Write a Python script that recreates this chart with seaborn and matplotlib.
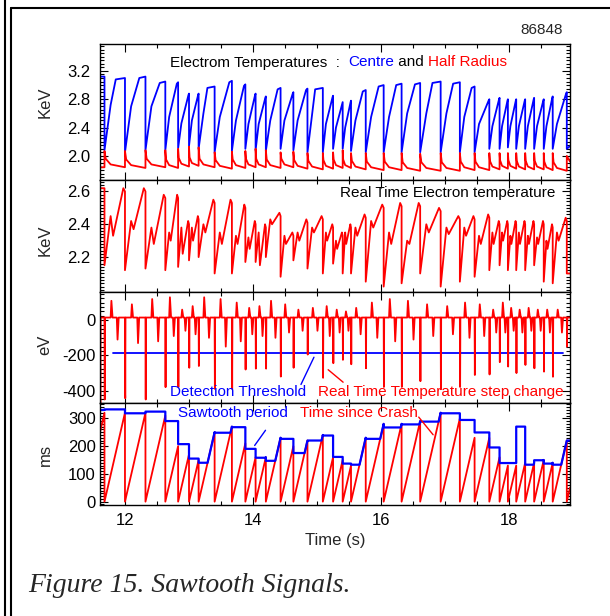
import numpy as np
import pandas as pd
import matplotlib
matplotlib.use("Agg")
import matplotlib.pyplot as plt
from matplotlib.ticker import MultipleLocator, FormatStrFormatter
from matplotlib.lines import Line2D
import seaborn as sns

# ---- values ----
t_start, t_end = 11.61, 18.95
prev_crash = 11.36          # crash just before the window (s)

# sawtooth crash times (s)
crash_t = [11.68, 12.00, 12.32, 12.63, 12.83, 13.00, 13.15, 13.40, 13.67, 13.88,
           14.04, 14.20, 14.43, 14.63, 14.85, 15.09, 15.25, 15.40, 15.53, 15.76,
           16.04, 16.32, 16.61, 16.93, 17.23, 17.46, 17.69, 17.85, 17.98, 18.11,
           18.25, 18.39, 18.54, 18.68, 18.90]

# centre Te per sawtooth (KeV): after crash, early rise, top; knee = fraction where top is reached
centre_pre, centre_post = 3.12, [2.10, 2.14]
centre_min = [2.08, 2.05, 2.08, 2.08, 2.11, 2.14, 2.10, 2.05, 2.07, 2.10,
              2.08, 2.07, 2.10, 2.08, 2.05, 2.05, 2.10, 2.10, 2.07, 2.05,
              2.05, 2.05, 2.05, 2.05, 2.05, 2.05, 2.10, 2.10, 2.12, 2.10,
              2.10, 2.10, 2.10, 2.10]
centre_mid = [2.72, 2.70, 2.70, 2.55, 2.46, 2.50, 2.60, 2.55, 2.50, 2.45,
              2.45, 2.50, 2.50, 2.50, 2.58, 2.45, 2.40, 2.40, 2.50, 2.55,
              2.55, 2.60, 2.60, 2.60, 2.55, 2.45, 2.42, 2.42, 2.42, 2.42,
              2.42, 2.42, 2.42, 2.45]
centre_peak = [3.10, 3.12, 3.05, 3.04, 2.88, 2.88, 2.98, 3.06, 3.01, 2.88,
               2.84, 2.96, 2.90, 2.95, 2.96, 2.85, 2.76, 2.78, 2.93, 3.00,
               3.02, 3.03, 3.05, 3.04, 2.98, 2.80, 2.82, 2.80, 2.80, 2.80,
               2.82, 2.80, 2.84, 2.90]
centre_knee = [0.55, 0.70, 0.72, 0.90, 0.95, 0.95, 0.55, 0.85, 0.90, 0.95,
               0.95, 0.80, 0.95, 0.90, 0.50, 0.95, 0.95, 0.95, 0.80, 0.72,
               0.70, 0.72, 0.60, 0.65, 0.80, 0.95, 0.95, 0.95, 0.95, 0.95,
               0.95, 0.95, 0.95, 0.95]

# half radius Te (KeV): jump at each crash, relaxed level per sawtooth
hr_pre, hr_post = 1.84, 1.92
hr_jump = [2.07, 2.07, 2.08, 2.08, 2.10, 2.13, 2.12, 2.05, 2.06, 2.07,
           2.10, 2.08, 2.05, 2.06, 2.04, 2.04, 2.05, 2.08, 2.04, 2.04,
           2.04, 2.04, 2.03, 2.04, 2.04, 2.04, 2.04, 2.04, 2.04, 2.04,
           2.04, 2.04, 2.04, 2.04, 2.00]
hr_base = [1.84, 1.83, 1.84, 1.83, 1.85, 1.86, 1.84, 1.82, 1.83, 1.84,
           1.84, 1.83, 1.84, 1.82, 1.81, 1.82, 1.83, 1.83, 1.81, 1.80,
           1.80, 1.79, 1.79, 1.79, 1.80, 1.80, 1.81, 1.82, 1.82, 1.81,
           1.81, 1.81, 1.80, 1.79]

# real time Te (KeV) per sawtooth
rt_pre, rt_post = 2.62, 2.10
rt_min = [2.15, 2.12, 2.13, 2.12, 2.14, 2.18, 2.20, 2.10, 2.10, 2.17,
          2.17, 2.20, 2.08, 2.18, 2.13, 2.10, 2.16, 2.10, 2.10, 2.05,
          2.02, 2.04, 2.10, 2.02, 2.05, 2.08, 2.12, 2.15, 2.12, 2.12,
          2.12, 2.15, 2.05, 2.04]
rt_mid = [2.45, 2.42, 2.38, 2.35, 2.38, 2.38, 2.40, 2.35, 2.33, 2.32,
          2.35, 2.43, 2.33, 2.35, 2.38, 2.35, 2.30, 2.35, 2.38, 2.42,
          2.35, 2.30, 2.40, 2.38, 2.38, 2.33, 2.35, 2.35, 2.33, 2.35,
          2.33, 2.32, 2.30, 2.35]
rt_dip = [2.33, 2.37, 2.28, 2.30, 2.22, 2.30, 2.35, 2.28, 2.28, 2.25,
          2.15, 2.40, 2.28, 2.30, 2.35, 2.30, 2.25, 2.28, 2.33, 2.38,
          2.28, 2.28, 2.35, 2.34, 2.33, 2.28, 2.28, 2.30, 2.28, 2.28,
          2.28, 2.28, 2.25, 2.30]
rt_peak = [2.62, 2.62, 2.58, 2.58, 2.42, 2.45, 2.55, 2.55, 2.52, 2.42,
           2.40, 2.47, 2.35, 2.43, 2.45, 2.40, 2.35, 2.40, 2.46, 2.52,
           2.53, 2.53, 2.50, 2.45, 2.45, 2.46, 2.42, 2.42, 2.42, 2.42,
           2.42, 2.42, 2.40, 2.44]

# real time step change (eV): spike at each crash, small blips in between
step_base = 15
step_pre_spike = -470
step_spike = [-450, -443, -450, -380, -380, -270, -260, -390, -390, -280,
              -275, -275, -320, -270, -195, -327, -244, -225, -250, -273,
              -379, -379, -346, -392, -379, -311, -308, -238, -263, -300,
              -254, -273, -292, -321, -150]
step_bump = [110, 90, 120, 130, 60, 80, 130, 120, 100, 70,
             80, 110, 90, 60, 70, 80, 60, 50, 70, 100,
             120, 110, 90, 80, 100, 90, 60, 100, 70, 60,
             70, 60, 60, 60]
step_dip = [-110, -130, -120, -90, -60, -80, -100, -150, -120, -80,
            -90, -100, -70, -60, -60, -90, -70, -60, -80, -100,
            -120, -110, -90, -80, -100, -90, -70, -70, -60, -70,
            -60, -60, -70, -70]
threshold_ev = -185
threshold_span = [11.81, 18.84]

# sawtooth period shown by the controller (ms): before first crash, per sawtooth, after last
period_ms = [330, 332, 318, 324, 290, 207, 155, 140, 248, 268, 190,
             158, 147, 226, 175, 220, 238, 161, 137, 133, 226,
             267, 278, 288, 318, 294, 249, 195, 139, 139, 270,
             133, 149, 137, 133, 220]

BLUE, RED = "#0000ff", "#ff0000"

# ---- build polylines ----
cx, cy = [t_start, crash_t[0]], [centre_pre, centre_pre]
hx, hy = [t_start, crash_t[0]], [hr_pre, hr_pre]
rx, ry = [t_start, crash_t[0]], [rt_pre, rt_pre]
for k in range(len(crash_t) - 1):
    t0, t1 = crash_t[k], crash_t[k + 1]
    dt = t1 - t0
    cx += [t0, t0 + 0.3 * dt, t0 + centre_knee[k] * dt, t1]
    cy += [centre_min[k], centre_mid[k], centre_peak[k] - 0.02, centre_peak[k]]
    hx += [t0, t0 + 0.06 * dt, t0 + 0.3 * dt, t1]
    hy += [hr_jump[k], hr_base[k] + 0.12, hr_base[k] + 0.04, hr_base[k]]
    rx += [t0, t0 + 0.3 * dt, t0 + 0.42 * dt, t0 + 0.92 * dt, t1]
    ry += [rt_min[k], rt_mid[k], rt_dip[k], rt_peak[k], rt_peak[k] - 0.02]
cx += [crash_t[-1], t_end]
cy += centre_post
hx += [crash_t[-1], t_end]
hy += [hr_jump[-1], hr_post]
rx += [crash_t[-1], t_end]
ry += [rt_post, rt_post]

sx, sy = [t_start, t_start + 0.005, t_start + 0.01], [step_base, step_pre_spike, step_base]
for k in range(len(crash_t)):
    t0 = crash_t[k]
    t1 = crash_t[k + 1] if k + 1 < len(crash_t) else t_end
    dt = t1 - t0
    sx += [t0, t0 + 0.004, t0 + 0.008]
    sy += [step_base, step_spike[k], step_base]
    if k < len(step_bump):
        for f, v in [(0.3, step_bump[k]), (0.6, step_dip[k])]:
            sx += [t0 + f * dt, t0 + f * dt + 0.012, t0 + f * dt + 0.03]
            sy += [step_base, v, step_base]
sx.append(t_end)
sy.append(step_base)

bounds = [t_start] + crash_t + [t_end]
origins = [prev_crash] + crash_t
tx, ty, px, py = [], [], [], []
for i in range(len(bounds) - 1):
    a, b, o, lev = bounds[i], bounds[i + 1], origins[i], period_ms[i]
    tx += [a, b]
    ty += [(a - o) * 1000, (b - o) * 1000]
    px.append(a)
    py.append(max(lev, (a - o) * 1000))
    cross = o + lev / 1000
    if cross < b:
        px += [max(cross, a), b]
        py += [lev, (b - o) * 1000]
    else:
        px.append(b)
        py.append(lev)

# ---- figure ----
sns.set_theme(style="ticks")
plt.rcParams["font.family"] = ["Liberation Sans", "DejaVu Sans"]
plt.rcParams["axes.linewidth"] = 1.0
plt.rcParams["axes.unicode_minus"] = False

fig = plt.figure(figsize=(6.10, 6.16), dpi=100)
fig.patch.set_facecolor("white")


def ax_at(top, bottom):
    return fig.add_axes([100 / 610, 1 - bottom / 616, 470 / 610, (bottom - top) / 616])


ax1 = ax_at(44, 180)
ax2 = ax_at(180, 292)
ax3 = ax_at(292, 403)
ax4 = ax_at(403, 505)

lw = 1.3
sns.lineplot(x=cx, y=cy, ax=ax1, color=BLUE, lw=lw, estimator=None, sort=False)
sns.lineplot(x=hx, y=hy, ax=ax1, color=RED, lw=lw, estimator=None, sort=False)
sns.lineplot(x=rx, y=ry, ax=ax2, color=RED, lw=lw, estimator=None, sort=False)
sns.lineplot(x=threshold_span, y=[threshold_ev, threshold_ev], ax=ax3, color=BLUE, lw=lw,
             estimator=None, sort=False)
sns.lineplot(x=sx, y=sy, ax=ax3, color=RED, lw=lw, estimator=None, sort=False)
sns.lineplot(x=tx, y=ty, ax=ax4, color=RED, lw=lw, estimator=None, sort=False)
sns.lineplot(x=px, y=py, ax=ax4, color=BLUE, lw=1.6, estimator=None, sort=False)

ax1.set_ylim(1.66, 3.58)
ax2.set_ylim(1.987, 2.67)
ax3.set_ylim(-470, 160)
ax4.set_ylim(-12, 355)
ax1.set_yticks([2.0, 2.4, 2.8, 3.2])
ax1.yaxis.set_minor_locator(MultipleLocator(0.05))
ax2.set_yticks([2.2, 2.4, 2.6])
ax2.yaxis.set_minor_locator(MultipleLocator(0.02))
ax3.set_yticks([-400, -200, 0])
ax3.yaxis.set_minor_locator(MultipleLocator(25))
ax4.set_yticks([0, 100, 200, 300])
ax4.yaxis.set_minor_locator(MultipleLocator(10))
ax1.yaxis.set_major_formatter(FormatStrFormatter("%.1f"))
ax2.yaxis.set_major_formatter(FormatStrFormatter("%.1f"))

for ax, pad in [(ax1, 7), (ax2, 7), (ax3, 3), (ax4, 3)]:
    ax.set_xlim(t_start, t_end)
    ax.xaxis.set_major_locator(MultipleLocator(2))
    ax.xaxis.set_minor_locator(MultipleLocator(0.5))
    ax.tick_params(which="both", direction="in", top=True, right=True, colors="black",
                   labelsize=12, width=0.8)
    ax.tick_params(axis="y", pad=pad)
    ax.tick_params(which="major", length=6)
    ax.tick_params(which="minor", length=3)
    ax.set_xlabel("")
    ax.set_ylabel("")
    for s in ax.spines.values():
        s.set_color("black")
    if ax is not ax4:
        ax.tick_params(labelbottom=False)
ax4.tick_params(axis="x", pad=6)

fs = 11
# panel 1 title in three colours
p1 = ax1.text(12.70, 3.22, "Electrom Temperatures  :  ", color="black", fontsize=fs, va="bottom")
p2 = ax1.annotate("Centre", xy=(1, 0), xycoords=p1, va="bottom", color=BLUE, fontsize=fs)
p3 = ax1.annotate(" and ", xy=(1, 0), xycoords=p2, va="bottom", color="black", fontsize=fs)
ax1.annotate("Half Radius", xy=(1, 0), xycoords=p3, va="bottom", color=RED, fontsize=fs)

ax2.text(18.72, 2.59, "Real Time Electron temperature", ha="right", va="center", fontsize=fs,
         color="black")

ax3.text(12.70, -407, "Detection Threshold", color=BLUE, fontsize=fs, va="center")
ax3.text(15.01, -407, "Real Time Temperature step change", color=RED, fontsize=fs, va="center")
ax3.annotate("", xy=(14.97, -196), xytext=(14.73, -379),
             arrowprops=dict(arrowstyle="-", color=BLUE, lw=1.0))
ax3.annotate("", xy=(15.14, -271), xytext=(15.44, -362),
             arrowprops=dict(arrowstyle="-", color=RED, lw=1.0))

ax4.text(12.83, 319, "Sawtooth period", color=BLUE, fontsize=fs, va="center")
ax4.text(14.73, 319, "Time since Crash", color=RED, fontsize=fs, va="center")
ax4.annotate("", xy=(14.00, 194), xytext=(14.22, 265),
             arrowprops=dict(arrowstyle="-", color=BLUE, lw=1.0))
ax4.annotate("", xy=(16.84, 233), xytext=(16.56, 312),
             arrowprops=dict(arrowstyle="-", color=RED, lw=1.0))

# axis labels
for txt, yc in [("KeV", 102), ("KeV", 240), ("eV", 345), ("ms", 455)]:
    fig.text(45 / 610, 1 - yc / 616, txt, rotation=90, ha="center", va="center", fontsize=12)
fig.text(335 / 610, 1 - 540 / 616, "Time (s)", ha="center", va="center", fontsize=12)
fig.text(563 / 610, 1 - 30 / 616, "86848", ha="right", va="center", fontsize=11)
fig.text(28 / 610, 1 - 585 / 616, "Figure 15. Sawtooth Signals.", ha="left", va="center",
         fontsize=20, family=["Liberation Serif", "DejaVu Serif"], style="italic")

# page frame
for xs, ys in [([5 / 610, 5 / 610], [0, 1]),
               ([11 / 610, 11 / 610], [0, 1 - 8 / 616]),
               ([11 / 610, 1], [1 - 8 / 616, 1 - 8 / 616])]:
    fig.add_artist(Line2D(xs, ys, color="black", lw=1.5, transform=fig.transFigure))

fig.savefig("out.png", dpi=100)
